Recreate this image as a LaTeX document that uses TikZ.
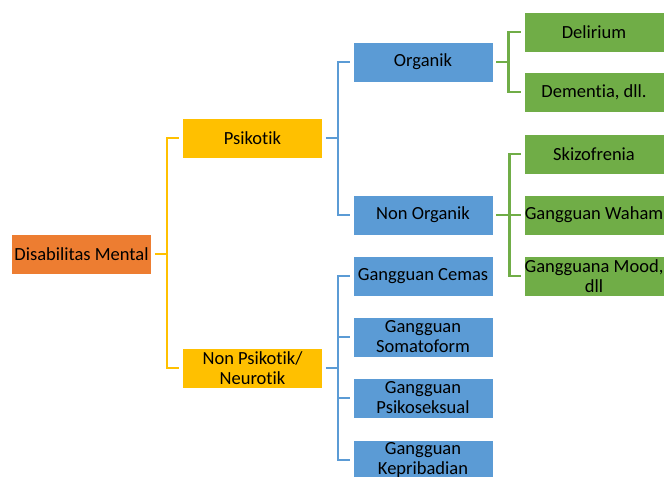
\documentclass[tikz,border=0pt]{standalone}
\usepackage{fontspec}
\setmainfont{Carlito}[Ligatures=NoCommon]
\definecolor{rootfill}{HTML}{ED7D31}
\definecolor{ylwfill}{HTML}{FFC000}
\definecolor{bluefill}{HTML}{5B9BD5}
\definecolor{grnfill}{HTML}{70AD47}
\tikzset{
  box/.style={minimum width=140pt, minimum height=40pt, inner sep=0pt, align=center,
    draw=white, line width=0.8pt, font=\fontsize{18.5}{20}\selectfont},
  rootbox/.style={box, fill=rootfill},
  ylwbox/.style={box, fill=ylwfill},
  bluebox/.style={box, fill=bluefill},
  grnbox/.style={box, fill=grnfill},
  link/.style={line width=2.2pt},
}
\begin{document}
\begin{tikzpicture}[x=1pt,y=-1pt]
    \useasboundingbox (0,0) rectangle (665,477);

    % Root
    \node[rootbox] (dm) at (81.5,254) {Disabilitas Mental};

    % First level
    \node[ylwbox] (psi) at (252.5,138) {Psikotik};
    \node[ylwbox] (npsi) at (252.5,368) {Non Psikotik/\\Neurotik};

    % Second level (Psikotik)
    \node[bluebox] (org) at (423,62) {Organik};
    \node[bluebox] (norg) at (423,215) {Non Organik};

    % Second level (Non Psikotik)
    \node[bluebox] (gcem) at (423,276) {Gangguan Cemas};
    \node[bluebox] (gsom) at (423,337) {Gangguan\\Somatoform};
    \node[bluebox] (gpsi) at (423,398) {Gangguan\\Psikoseksual};
    \node[bluebox] (gkep) at (423,460) {Gangguan\\Kepribadian};

    % Third level
    \node[grnbox] (del) at (594,32) {Delirium};
    \node[grnbox] (dem) at (594,92) {Dementia, dll.};
    \node[grnbox] (skz) at (594,154) {Skizofrenia};
    \node[grnbox] (gwah) at (594,215) {Gangguan Waham};
    \node[grnbox] (gmood) at (594,276) {Gangguana Mood,\\dll};

    % Yellow connectors
    \draw[link, ylwfill] ([xshift=3]dm.east) -- ++(12,0) coordinate (j0) |- ([xshift=-3]psi.west);
    \draw[link, ylwfill] (j0) |- ([xshift=-3]npsi.west);

    % Blue connectors
    \draw[link, bluefill] ([xshift=3]psi.east) -- ++(12,0) coordinate (j1) |- ([xshift=-3]org.west);
    \draw[link, bluefill] (j1) |- ([xshift=-3]norg.west);
    \draw[link, bluefill] ([xshift=3]npsi.east) -- ++(12,0) coordinate (j2) |- ([xshift=-3]gcem.west);
    \foreach \n in {gsom,gpsi,gkep}
        \draw[link, bluefill] (j2) |- ([xshift=-3]\n.west);

    % Green connectors
    \draw[link, grnfill] ([xshift=3]org.east) -- ++(12,0) coordinate (j3) |- ([xshift=-3]del.west);
    \draw[link, grnfill] (j3) |- ([xshift=-3]dem.west);
    \draw[link, grnfill] ([xshift=3]norg.east) -- ++(13,0) coordinate (j4) |- ([xshift=-3]skz.west);
    \foreach \n in {gwah,gmood}
        \draw[link, grnfill] (j4) |- ([xshift=-3]\n.west);

\end{tikzpicture}
\end{document}
